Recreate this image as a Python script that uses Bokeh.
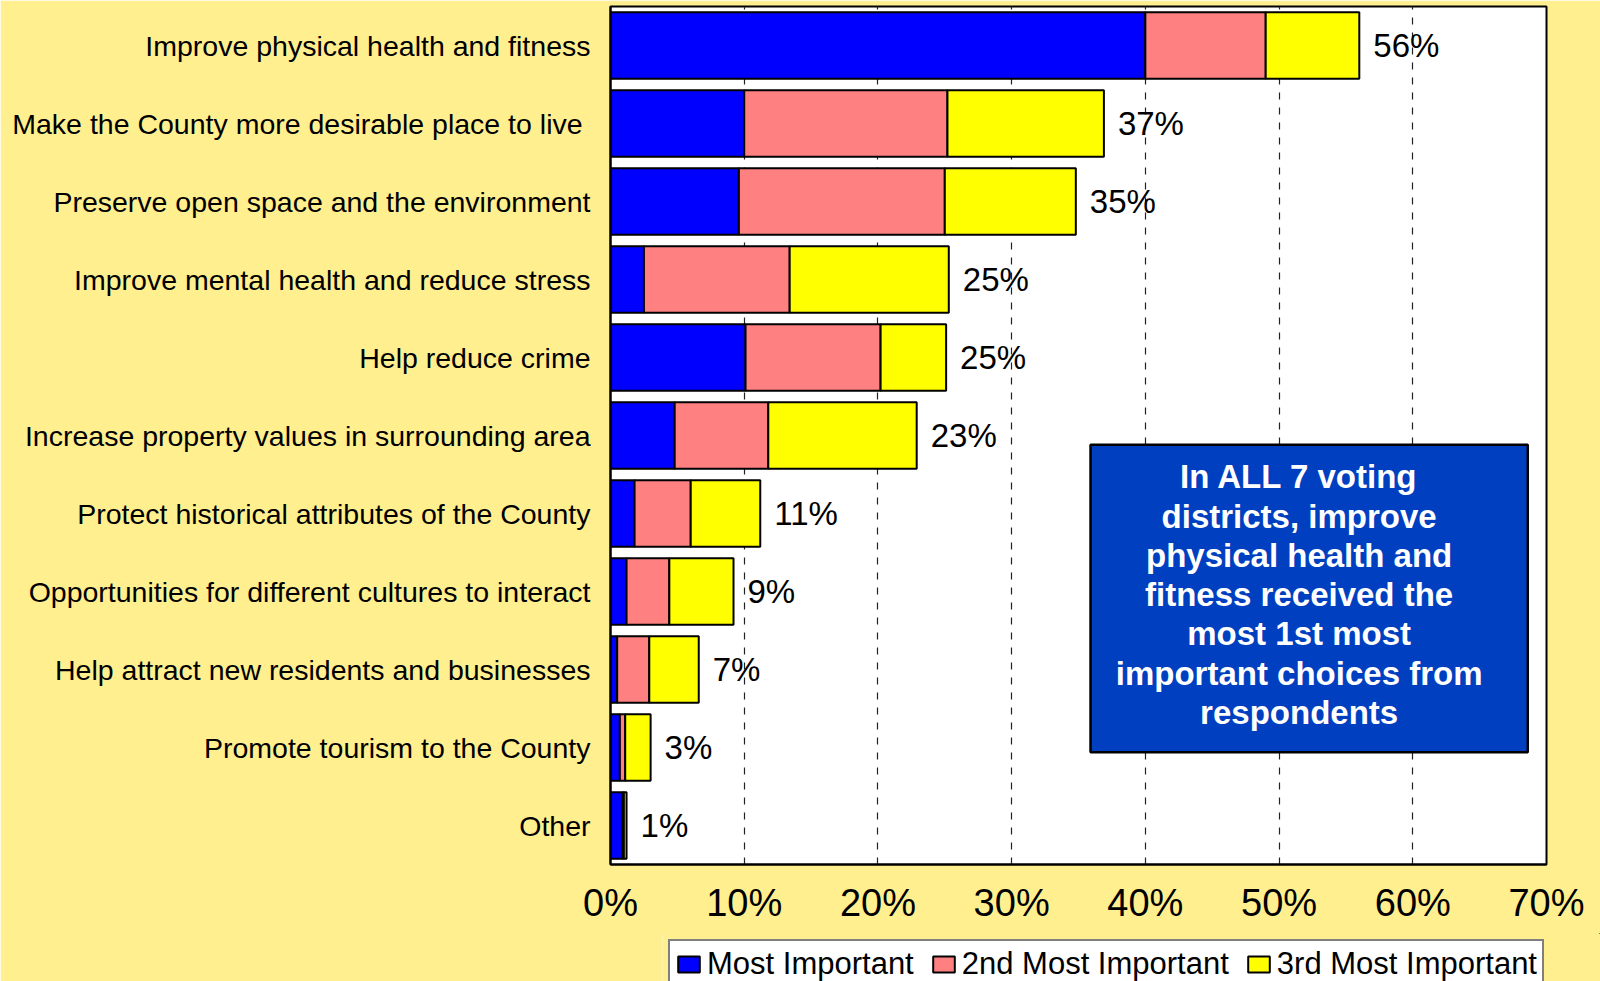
from bokeh.plotting import figure
from bokeh.models import (Range1d, FixedTicker, Legend, LegendItem, ColumnDataSource)
from bokeh.core.properties import value
from bokeh.embed import file_html
from bokeh.resources import INLINE

# ---- data (top to bottom) ----
categories = [
    "Improve physical health and fitness",
    "Make the County more desirable place to live ",
    "Preserve open space and the environment",
    "Improve mental health and reduce stress",
    "Help reduce crime",
    "Increase property values in surrounding area",
    "Protect historical attributes of the County",
    "Opportunities for different cultures to interact",
    "Help attract new residents and businesses",
    "Promote tourism to the County",
    "Other",
]
most_important = [40.0, 10.0, 9.6, 2.5, 10.1, 4.8, 1.8, 1.2, 0.5, 0.7, 0.9]
second_important = [9.0, 15.2, 15.4, 10.9, 10.1, 7.0, 4.2, 3.2, 2.4, 0.4, 0.1]
third_important = [7.0, 11.7, 9.8, 11.9, 4.9, 11.1, 5.2, 4.8, 3.7, 1.9, 0.2]
total_labels = ["56%", "37%", "35%", "25%", "25%", "23%", "11%", "9%", "7%", "3%", "1%"]
series_names = ["Most Important", "2nd Most Important", "3rd Most Important"]
x_ticks = [0, 10, 20, 30, 40, 50, 60, 70]
x_tick_labels = ["0%", "10%", "20%", "30%", "40%", "50%", "60%", "70%"]
note_text = ("In ALL 7 voting\ndistricts, improve\nphysical health and\nfitness received the\n"
             "most 1st most\nimportant choices from\nrespondents")

FONT = "Liberation Sans"
BG = "#FFEF8F"
COLORS = ["#0000FF", "#FF8080", "#FFFF00"]

n = len(categories)
ypos = [n - 1 - i + 0.5 for i in range(n)]
s1_left = [0.0] * n
s1_right = most_important
s2_left = s1_right
s2_right = [a + b for a, b in zip(s1_right, second_important)]
s3_left = s2_right
s3_right = [a + b for a, b in zip(s2_right, third_important)]

src = ColumnDataSource(dict(y=ypos, l1=s1_left, r1=s1_right, l2=s2_left, r2=s2_right,
                            l3=s3_left, r3=s3_right, lab=total_labels))

p = figure(width=1600, height=934, output_backend="svg", toolbar_location=None,
           x_range=Range1d(0, 70), y_range=Range1d(0, n),
           min_border_left=610, min_border_right=54, min_border_top=6, min_border_bottom=70)
p.background_fill_color = "white"
p.border_fill_color = BG
p.outline_line_color = "black"
p.outline_line_width = 2

# grid
p.ygrid.visible = False
p.xgrid.ticker = FixedTicker(ticks=x_ticks)
p.xgrid.grid_line_color = "#222222"
p.xgrid.grid_line_width = 1.2
p.xgrid.grid_line_dash = "7 8"

bar_h = 0.855
for l, r, c in (("l1", "r1", COLORS[0]), ("l2", "r2", COLORS[1]), ("l3", "r3", COLORS[2])):
    p.hbar(y="y", left=l, right=r, height=bar_h, source=src,
           fill_color=c, line_color="black", line_width=2)

p.text(x="r3", y="y", text="lab", source=src, x_offset=14,
       text_font=value(FONT), text_font_size="33px", text_color="black",
       text_align="left", text_baseline="middle")

# note box
p.quad(left=[35.9], right=[68.6], bottom=[1.44], top=[5.38],
       fill_color="#0040C0", line_color="black", line_width=2.5)
p.text(x=[51.5], y=[3.46], text=[note_text], text_font=value(FONT),
       text_font_size="33px", text_font_style="bold", text_color="white",
       text_align="center", text_baseline="middle", text_line_height=1.06)

# axes
p.xaxis.ticker = FixedTicker(ticks=x_ticks)
p.xaxis.major_label_overrides = {t: l for t, l in zip(x_ticks, x_tick_labels)}
p.xaxis.major_label_text_font = FONT
p.xaxis.major_label_text_font_size = "38px"
p.xaxis.major_label_text_color = "black"
p.xaxis.major_label_standoff = 17
p.xaxis.major_tick_in = 0
p.xaxis.major_tick_out = 0
p.xaxis.minor_tick_line_color = None
p.xaxis.axis_line_width = 2

p.yaxis.ticker = FixedTicker(ticks=ypos)
p.yaxis.major_label_overrides = {y: c for y, c in zip(ypos, categories)}
p.yaxis.major_label_text_font = FONT
p.yaxis.major_label_text_font_size = "28.5px"
p.yaxis.major_label_text_color = "black"
p.yaxis.major_label_standoff = 20
p.yaxis.major_tick_in = 0
p.yaxis.major_tick_out = 0
p.yaxis.minor_tick_line_color = None
p.yaxis.axis_line_width = 2

# ---- legend strip (separate root, so its frame is not aligned with the chart) ----
p2 = figure(width=1600, height=48, output_backend="svg", toolbar_location=None,
            x_range=Range1d(0, 1), y_range=Range1d(0, 1),
            min_border_left=662, min_border_right=0, min_border_top=0, min_border_bottom=0,
            styles={"margin-top": "-1px"})
p2.axis.visible = False
p2.grid.visible = False
p2.background_fill_color = BG
p2.border_fill_color = BG
p2.outline_line_color = None
items = []
for name, c in zip(series_names, COLORS):
    # legend swatch renderer, kept outside the visible range
    rr = p2.hbar(y=[6], left=[2], right=[3], height=0.5, fill_color=c,
                 line_color="black", line_width=2)
    items.append(LegendItem(label=name, renderers=[rr]))
legend = Legend(items=items, orientation="horizontal", location="top_left",
                label_text_font=FONT, label_text_font_size="31px",
                label_text_color="black", glyph_width=27, glyph_height=20,
                label_standoff=5, spacing=16, padding=5, margin=6,
                border_line_color="black", border_line_width=2,
                background_fill_color="white", background_fill_alpha=1)
p2.add_layout(legend, "center")

html = file_html([p, p2], INLINE)
html = html.replace("<body>", '<body style="background-color: %s;">' % BG, 1)
open("out.html", "w").write(html)
